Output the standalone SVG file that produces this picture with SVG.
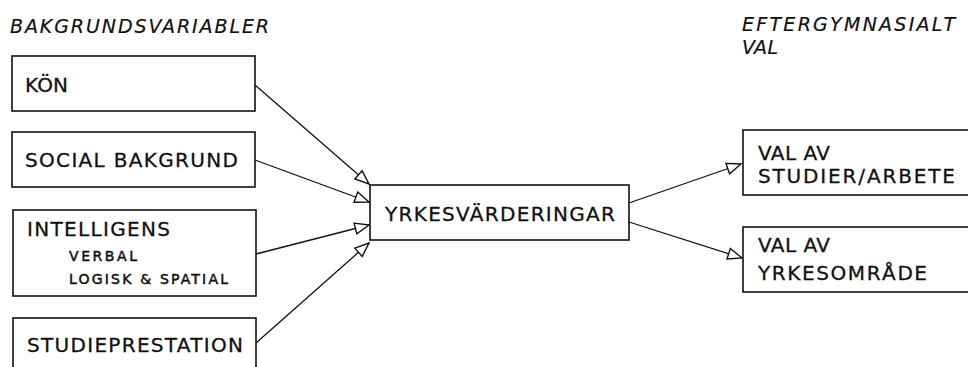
<svg xmlns="http://www.w3.org/2000/svg" width="968" height="367" viewBox="0 0 968 367">
<style>
.box{fill:#fff;stroke:#111;stroke-width:1.6}
.t{font-family:"DejaVu Sans",sans-serif;font-size:20px;fill:#111;stroke:#111;stroke-width:0.3}
.s{font-family:"DejaVu Sans",sans-serif;font-size:14px;fill:#111;stroke:#111;stroke-width:0.5}
.h{font-family:"DejaVu Sans",sans-serif;font-size:19px;font-style:italic;fill:#111;stroke:#111;stroke-width:0.2}
.c{fill:none;stroke:#111;stroke-width:1.3}
</style>
<defs>
<marker id="arr" markerUnits="userSpaceOnUse" markerWidth="16" markerHeight="14" viewBox="0 0 16 14" refX="15" refY="7" orient="auto">
<path d="M1,1.5 L15,7 L1,12.5 Z" fill="#fff" stroke="#111" stroke-width="1.4"/>
</marker>
</defs>
<rect width="968" height="367" fill="#fff"/>
<text class="h" x="10" y="33" textLength="259" lengthAdjust="spacing">BAKGRUNDSVARIABLER</text>
<g id="eftergymnasialt">
<text class="h" x="742" y="31" textLength="213" lengthAdjust="spacing">EFTERGYMNASIALT</text>
<text class="h" x="742" y="54" textLength="36" lengthAdjust="spacing">VAL</text>
</g>
<g id="kon">
<rect class="box" x="12" y="56" width="243" height="55"/>
<text class="t" x="25" y="92" textLength="43" lengthAdjust="spacing">KÖN</text>
</g>
<g id="social">
<rect class="box" x="12" y="132" width="243" height="55"/>
<text class="t" x="25" y="167" textLength="213" lengthAdjust="spacing">SOCIAL BAKGRUND</text>
</g>
<g id="intelligens">
<rect class="box" x="13" y="210" width="243" height="86"/>
<text class="t" x="27" y="236" textLength="143" lengthAdjust="spacing">INTELLIGENS</text>
<text class="s" x="69" y="261" textLength="68" lengthAdjust="spacing">VERBAL</text>
<text class="s" x="69" y="284" textLength="159" lengthAdjust="spacing">LOGISK &amp; SPATIAL</text>
</g>
<g id="studie">
<rect class="box" x="13" y="318" width="243" height="60"/>
<text class="t" x="27" y="352" textLength="216" lengthAdjust="spacing">STUDIEPRESTATION</text>
</g>
<g id="yrkes">
<rect class="box" x="370" y="185" width="259" height="55"/>
<text class="t" x="385" y="221" textLength="230" lengthAdjust="spacing">YRKESVÄRDERINGAR</text>
</g>
<g id="val1">
<rect class="box" x="743" y="130" width="240" height="65"/>
<text class="t" x="758" y="160" textLength="72" lengthAdjust="spacing">VAL AV</text>
<text class="t" x="758" y="183" textLength="197" lengthAdjust="spacing">STUDIER/ARBETE</text>
</g>
<g id="val2">
<rect class="box" x="743" y="227" width="240" height="65"/>
<text class="t" x="758" y="252" textLength="72" lengthAdjust="spacing">VAL AV</text>
<text class="t" x="758" y="280" textLength="169" lengthAdjust="spacing">YRKESOMRÅDE</text>
</g>
<g id="connectors">
<line class="c" x1="255" y1="85" x2="369" y2="184" marker-end="url(#arr)"/>
<line class="c" x1="255" y1="160" x2="369" y2="202" marker-end="url(#arr)"/>
<line class="c" x1="256" y1="254" x2="369" y2="225" marker-end="url(#arr)"/>
<line class="c" x1="256" y1="343" x2="369" y2="243" marker-end="url(#arr)"/>
<line class="c" x1="629" y1="203" x2="741" y2="164" marker-end="url(#arr)"/>
<line class="c" x1="629" y1="222" x2="742" y2="258" marker-end="url(#arr)"/>
</g>
</svg>
